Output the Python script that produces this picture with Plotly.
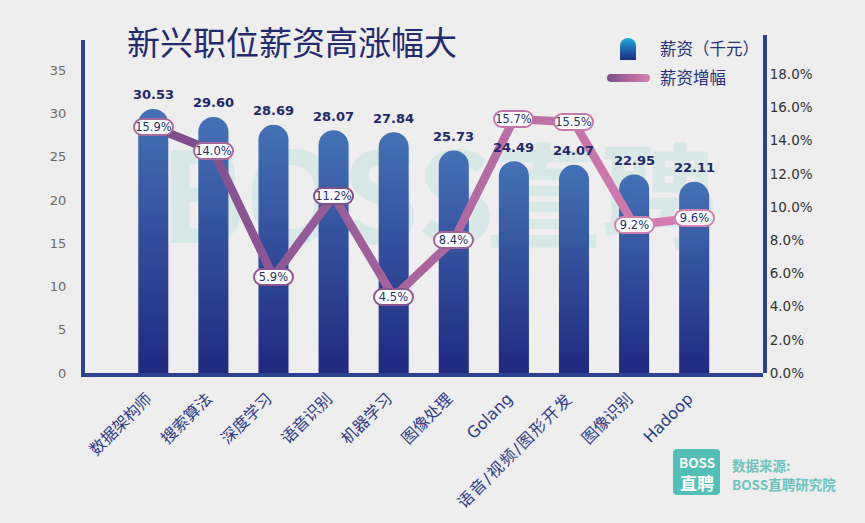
import plotly.graph_objects as go

categories = ["数据架构师", "搜索算法", "深度学习", "语音识别", "机器学习", "图像处理",
              "Golang", "语音/视频/图形开发", "图像识别", "Hadoop"]
salary = [30.53, 29.60, 28.69, 28.07, 27.84, 25.73, 24.49, 24.07, 22.95, 22.11]
growth_labels = ["15.9%", "14.0%", "5.9%", "11.2%", "4.5%", "8.4%", "15.7%", "15.5%", "9.2%", "9.6%"]
# marker height read against the right-hand axis as drawn in the picture
growth_drawn = [14.82, 13.37, 5.78, 10.66, 4.58, 8.01, 15.3, 15.12, 8.92, 9.34]
pill_colors = ["#a9699f", "#a9699f", "#8a5592", "#7d4f8c", "#8a5592", "#a0609c",
               "#c776ab", "#c776ab", "#d27fb0", "#d27fb0"]
left_ticks = [0, 5, 10, 15, 20, 25, 30, 35]
right_ticks = [0, 2, 4, 6, 8, 10, 12, 14, 16, 18]
right_ticktext = ["0.0%", "2.0%", "4.0%", "6.0%", "8.0%", "10.0%", "12.0%", "14.0%", "16.0%", "18.0%"]

W, H = 865, 523
L, R, T, B = 85, 763, 35, 373
NAVY = "#24307a"
CJK = "Noto Sans CJK SC"
def px(x): return (x - L) / (R - L)
def py(y): return (B - y) / (B - T)

fig = go.Figure()
fig.add_bar(x=list(range(10)), y=salary, name="薪资（千元）", width=0.5,
            marker=dict(color="#2f4a9a", line_width=0, cornerradius=15))
fig.add_scatter(x=list(range(10)), y=growth_drawn, yaxis="y2", name="薪资增幅", mode="lines",
                line=dict(color="#a0609c", width=8.5))

annotations = []
for i, v in enumerate(salary):
    annotations.append(dict(x=i, y=v, xref="x", yref="y", text=f"{v:.2f}", showarrow=False,
                            yanchor="middle", yshift=14,
                            font=dict(family="DejaVu Sans", size=13, color="#22286a", weight="bold")))
for i, t in enumerate(growth_labels):
    annotations.append(dict(x=i, y=growth_drawn[i], xref="x", yref="y2", text=t, showarrow=False,
                            width=37, height=14, borderwidth=2, borderpad=0, bgcolor="#ffffff",
                            bordercolor=pill_colors[i],
                            font=dict(family="DejaVu Sans", size=11.5, color="#23306e")))
for x, y, t, s, c, w, a in [
    (696.5, 462, "BOSS", 13.5, "#ffffff", "bold", "center"),
    (696.5, 482, "直聘", 17, "#ffffff", "bold", "center"),
    (730, 465, "数据来源:", 13.5, "#6cc4bd", "bold", "left"),
    (730, 484, "BOSS直聘研究院", 13.5, "#6cc4bd", "bold", "left"),
]:
    annotations.append(dict(x=px(x), y=py(y), xref="paper", yref="paper", xanchor=a, yanchor="middle",
                            text=t, showarrow=False,
                            font=dict(family=CJK, size=s, color=c, weight=w)))

def logo_path(xa, xb, ya, yb, r):
    P = lambda x, y: f"{px(x):.5f},{py(y):.5f}"
    return (f"M{P(xa + r, ya)} L{P(xb - r, ya)} Q{P(xb, ya)} {P(xb, ya + r)} L{P(xb, yb - r)} "
            f"Q{P(xb, yb)} {P(xb - r, yb)} L{P(xa + r, yb)} Q{P(xa, yb)} {P(xa, yb - r)} "
            f"L{P(xa, ya + r)} Q{P(xa, ya)} {P(xa + r, ya)} Z")

shapes = [
    dict(type="rect", xref="paper", yref="paper", x0=px(177), x1=px(477), y0=py(257), y1=py(159),
         line_width=0, fillcolor="rgba(0,0,0,0)", layer="below",
         label=dict(text="BOSS", font=dict(family=CJK, size=125, color="#d7e8e6", weight="bold"),
                    textposition="middle center")),
    dict(type="rect", xref="paper", yref="paper", x0=px(485), x1=px(717), y0=py(257), y1=py(159),
         line_width=0, fillcolor="rgba(0,0,0,0)", layer="below",
         label=dict(text="直聘", font=dict(family=CJK, size=115, color="#d7e8e6", weight="bold"),
                    textposition="middle center")),
    dict(type="path", xref="paper", yref="paper", path=logo_path(673, 720, 449, 495, 4),
         line_width=0, fillcolor="#52bfb8", layer="above"),
]

axis_line = dict(showline=True, linecolor="#2c4190", linewidth=4)
fig.update_layout(
    width=W, height=H, autosize=False,
    margin=dict(l=L, r=W - R, t=T, b=H - B, autoexpand=False),
    paper_bgcolor="#eeeeee", plot_bgcolor="rgba(0,0,0,0)",
    font=dict(family=CJK),
    title=dict(text="新兴职位薪资高涨幅大", x=127 / W, xanchor="left", y=1 - 43 / H, yanchor="middle",
               font=dict(family=CJK, size=33, color="#23296e")),
    showlegend=True,
    legend=dict(x=px(606), y=py(36), xanchor="left", yanchor="top", bgcolor="rgba(0,0,0,0)",
                itemwidth=44, font=dict(family=CJK, size=16.5, color=NAVY), traceorder="normal",
                itemclick=False, itemdoubleclick=False),
    xaxis=dict(range=[-1.136, 10.145], tickmode="array", tickvals=list(range(10)), ticktext=categories,
               tickangle=-45, ticks="", showgrid=False, zeroline=False, ticklabelstandoff=6, ticklabelshift=-6,
               tickfont=dict(family="DejaVu Sans, Noto Sans CJK SC", size=16, color="#2e3c88"), **axis_line),
    yaxis=dict(domain=[0, 333 / 338], range=[0, 333 / 8.65], tickvals=left_ticks, ticks="", showgrid=False,
               zeroline=False, ticklabelstandoff=12,
               tickfont=dict(family="DejaVu Sans", size=13, color="#6f6a60"), **axis_line),
    yaxis2=dict(domain=[0, 1], range=[0, 338 / 16.6], side="right", anchor="x", tickvals=right_ticks,
                ticktext=right_ticktext, ticks="", showgrid=False, zeroline=False,
                tickfont=dict(family="DejaVu Sans", size=13.5, color="#333333"), **axis_line),
    annotations=annotations, shapes=shapes,
)

post = """
document.documentElement.style.margin = '0';
document.body.style.margin = '0';
document.body.style.background = '#eeeeee';
var gd = document.getElementById('{plot_id}');
var svg = gd.querySelector('svg.main-svg');
var NS = 'http://www.w3.org/2000/svg';
function grad(id, x2, y2, stops, user) {
  var g = document.createElementNS(NS, 'linearGradient');
  g.setAttribute('id', id); g.setAttribute('x1', '0'); g.setAttribute('y1', '0');
  g.setAttribute('x2', x2); g.setAttribute('y2', y2);
  if (user) g.setAttribute('gradientUnits', 'userSpaceOnUse');
  stops.forEach(function (s) {
    var e = document.createElementNS(NS, 'stop');
    e.setAttribute('offset', s[0]); e.setAttribute('stop-color', s[1]); g.appendChild(e);
  });
  svg.querySelector('defs').appendChild(g);
}
grad('barGrad', '0', '1', [['0', '#4472b6'], ['1', '#1f2980']]);
grad('iconGrad', '0', '1', [['0', '#1fa9e0'], ['1', '#1c2a80']]);
grad('lineGrad', '1', '0', [['0', '#7a4b8b'], ['1', '#dc7fb2']]);
grad('legLine', '44', '0', [['0', '#7a4b8b'], ['1', '#dc7fb2']], true);
gd.querySelectorAll('.barlayer .point path').forEach(function (p) { p.style.fill = 'url(#barGrad)'; });
gd.querySelectorAll('.scatterlayer .js-line').forEach(function (p) {
  p.style.stroke = 'url(#lineGrad)'; p.style.strokeLinejoin = 'miter';
});
gd.querySelectorAll('.annotation rect.bg').forEach(function (r) { r.setAttribute('rx', 8); r.setAttribute('ry', 8); });
gd.querySelectorAll('.xtick text').forEach(function (t) {
  if (t.textContent.indexOf('/') >= 0) t.style.letterSpacing = '1.6px';
});
gd.querySelectorAll('.legend .traces').forEach(function (it, i) {
  it.setAttribute('transform', 'translate(0,' + (13 + i * 29) + ')');
  if (i === 0) {
    it.querySelectorAll('.legendpoints path').forEach(function (bar) {
      bar.setAttribute('d', 'M-8,11V-3A8,8 0 0 1 8,-3V11Z');
      bar.setAttribute('transform', 'translate(22,0)');
      bar.style.fill = 'url(#iconGrad)';
    });
  }
  it.querySelectorAll('.legendlines path').forEach(function (p) {
    var m = /^M([-0-9.]+)/.exec(p.getAttribute('d'));
    p.setAttribute('d', 'M' + (m ? m[1] : '5') + ',0h35');
    p.style.stroke = 'url(#legLine)'; p.style.strokeLinecap = 'round'; p.style.strokeWidth = '8px';
  });
});
"""
fig.write_html("out.html", post_script=post, config=dict(displayModeBar=False))
